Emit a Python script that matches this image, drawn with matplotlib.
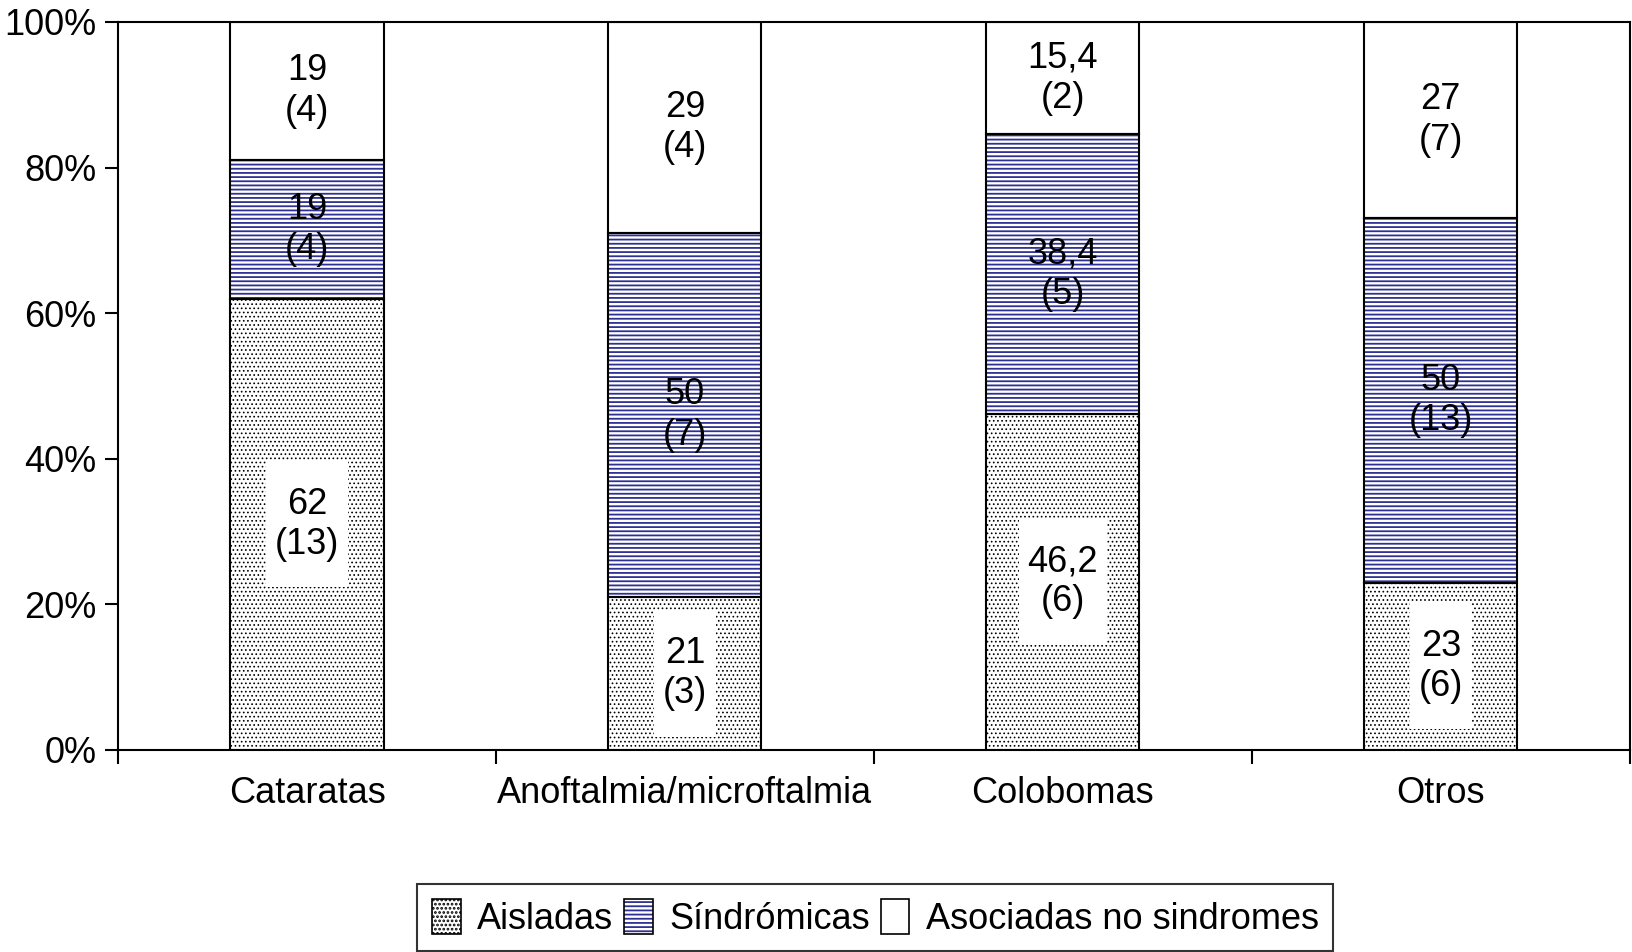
import numpy as np
import matplotlib.pyplot as plt
from matplotlib.patches import Patch
from matplotlib.path import Path
from matplotlib.ticker import FixedLocator, PercentFormatter

categorias = ['Cataratas', 'Anoftalmia/microftalmia', 'Colobomas', 'Otros']
aisladas = [62, 21, 46.2, 23]
sindromicas = [19, 50, 38.4, 50]
asociadas = [19, 29, 15.4, 27]
n_aisladas = [13, 3, 6, 6]
n_sindromicas = [4, 7, 5, 13]
n_asociadas = [4, 4, 2, 7]
etiquetas = ['Aisladas', 'Síndrómicas', 'Asociadas no sindromes']

plt.rcParams['font.family'] = ['Liberation Sans', 'DejaVu Sans']
azul = '#2e3192'
puntos = '....'
rayas = '----'

def caja(x0, y0, width, height, mutation_size):
    # caja blanca mas alta que ancha, como en el original
    px = 0.25 * mutation_size
    py = 0.7 * mutation_size
    x0, y0 = x0 - px, y0 - py
    x1, y1 = x0 + width + 2 * px, y0 + height + 2 * py
    return Path([(x0, y0), (x1, y0), (x1, y1), (x0, y1), (x0, y0)], closed=True)

fig = plt.figure(figsize=(16.33, 9.52), dpi=100)
ax = fig.add_axes([0.0723, 0.2122, 0.998 - 0.0723, 0.977 - 0.2122])

x = np.arange(len(categorias))
ancho = 0.405
abajo = np.array(aisladas)
medio = abajo + np.array(sindromicas)

plt.rcParams['hatch.linewidth'] = 0.7
b1 = ax.bar(x, aisladas, ancho, color='white', edgecolor='black', hatch=puntos, linewidth=0)
plt.rcParams['hatch.linewidth'] = 1.3
b2 = ax.bar(x, sindromicas, ancho, bottom=abajo, color='white', edgecolor=azul, hatch=rayas, linewidth=0)
for p in b1:
    if hasattr(p, 'set_hatch_linewidth'):
        p.set_hatch_linewidth(0.7)
for p in b2:
    if hasattr(p, 'set_hatch_linewidth'):
        p.set_hatch_linewidth(1.3)
ax.bar(x, asociadas, ancho, bottom=medio, color='white', linewidth=0)
# contornos negros
ax.bar(x, aisladas, ancho, fill=False, edgecolor='black', linewidth=1.5)
ax.bar(x, sindromicas, ancho, bottom=abajo, fill=False, edgecolor='black', linewidth=1.5)
ax.bar(x, asociadas, ancho, bottom=medio, fill=False, edgecolor='black', linewidth=1.5)

def fmt(v):
    return ('%g' % v).replace('.', ',')

for i in range(len(categorias)):
    ax.text(x[i], aisladas[i] / 2, f"{fmt(aisladas[i])}\n({n_aisladas[i]})",
            ha='center', va='center', fontsize=26, linespacing=1.2,
            bbox=dict(boxstyle=caja, facecolor='white', edgecolor='none'))
    ax.text(x[i], abajo[i] + sindromicas[i] / 2, f"{fmt(sindromicas[i])}\n({n_sindromicas[i]})",
            ha='center', va='center', fontsize=26, linespacing=1.2)
    ax.text(x[i], medio[i] + asociadas[i] / 2, f"{fmt(asociadas[i])}\n({n_asociadas[i]})",
            ha='center', va='center', fontsize=26, linespacing=1.2)

ax.set_xlim(-0.5, 3.5)
ax.set_ylim(0, 100)
ax.yaxis.set_major_locator(FixedLocator([0, 20, 40, 60, 80, 100]))
ax.yaxis.set_major_formatter(PercentFormatter(decimals=0))
ax.xaxis.set_major_locator(FixedLocator([-0.5, 0.5, 1.5, 2.5, 3.5]))
ax.xaxis.set_minor_locator(FixedLocator(x))
ax.set_xticklabels([], minor=False)
ax.set_xticklabels(categorias, minor=True)
ax.tick_params(axis='x', which='major', length=10, width=1.5, direction='out')
ax.tick_params(axis='x', which='minor', length=0, labelsize=26, pad=19)
ax.tick_params(axis='y', length=9.5, width=1.5, labelsize=26, pad=6)
for s in ax.spines.values():
    s.set_linewidth(1.5)

h1 = (Patch(facecolor='white', edgecolor='black', hatch=puntos, linewidth=0),
      Patch(fill=False, edgecolor='black', linewidth=1.2))
h2 = (Patch(facecolor='white', edgecolor=azul, hatch=rayas, linewidth=0),
      Patch(fill=False, edgecolor='black', linewidth=1.2))
h3 = Patch(facecolor='white', edgecolor='black', linewidth=1.2)
leg = fig.legend([h1, h2, h3], etiquetas, loc='center', bbox_to_anchor=(0.536, 0.036),
                 ncol=3, fontsize=26, frameon=True, fancybox=False, edgecolor='black',
                 handlelength=0.8, handleheight=1.1, handletextpad=0.45, columnspacing=0.3,
                 borderpad=0.4, borderaxespad=0)
leg.get_frame().set_linewidth(1.5)

fig.savefig('out.png', dpi=100)
